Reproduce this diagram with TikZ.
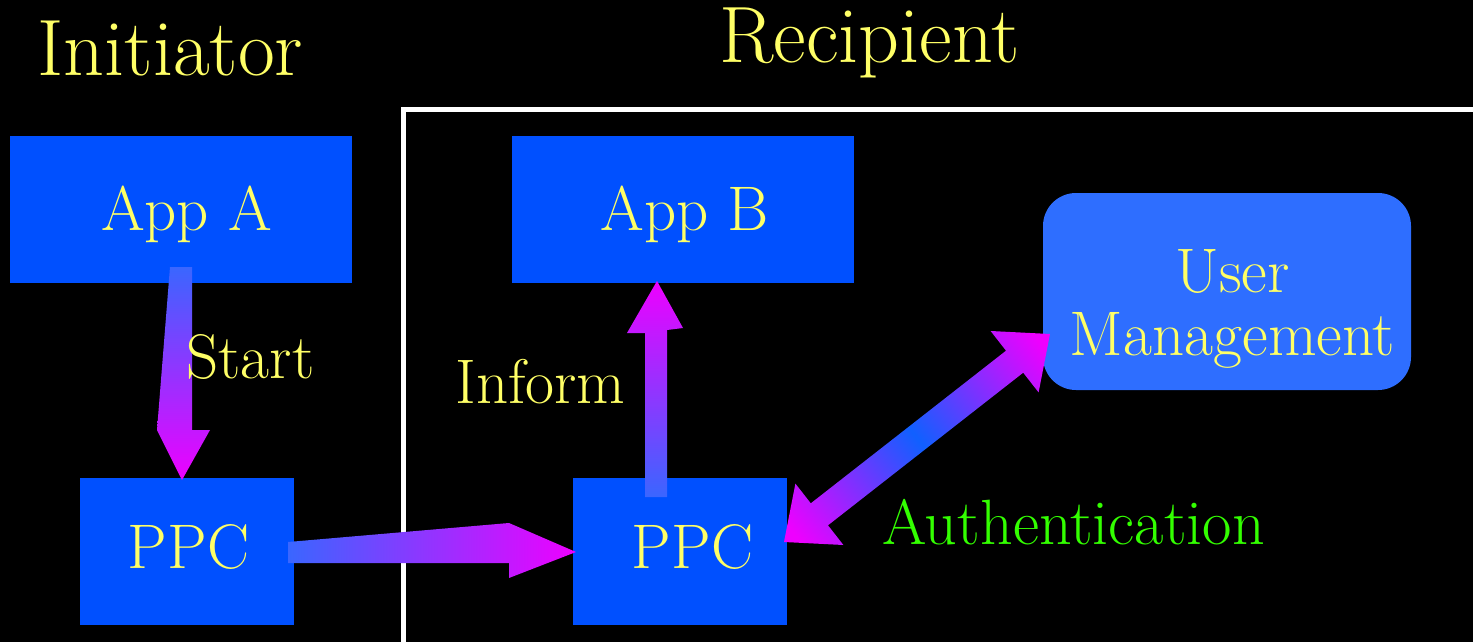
\documentclass[tikz,border=0pt]{standalone}
\definecolor{boxblue}{HTML}{0050FF}
\definecolor{umblue}{HTML}{2E6EFF}
\definecolor{txtyellow}{HTML}{FFFF66}
\definecolor{txtgreen}{HTML}{33FF00}
\definecolor{arrblue}{HTML}{3A66FF}
\definecolor{arrmag}{HTML}{EE00FF}
\definecolor{midblue}{HTML}{1060FF}
\pgfdeclarehorizontalshading{dblsh}{100bp}{color(0bp)=(arrmag); color(18bp)=(arrmag); color(50bp)=(midblue); color(82bp)=(arrmag); color(100bp)=(arrmag)}
\tikzset{
  box/.style={fill=boxblue, draw=none, inner sep=0pt, rectangle},
  umbox/.style={fill=umblue, draw=none, inner sep=0pt, rectangle, rounded corners=33pt},
  lbl/.style={text=txtyellow, font=\rmfamily\fontsize{63}{63}\selectfont, inner sep=0pt, anchor=base},
  title/.style={text=txtyellow, font=\rmfamily\fontsize{80}{80}\selectfont, inner sep=0pt, anchor=base},
  glbl/.style={text=txtgreen, font=\rmfamily\fontsize{64}{64}\selectfont, inner sep=0pt, anchor=base},
  frame/.style={draw=white, line width=5pt}
}
\begin{document}
\begin{tikzpicture}[x=1pt,y=-1pt]
\useasboundingbox (0,0) rectangle (1473,642);
\fill[black] (0,0) rectangle (1473,642);
% recipient frame
\coordinate (fb) at (403,650);
\coordinate (fc) at (403,109);
\coordinate (fr) at (1480,109);
\begin{scope}
\clip (0,0) rectangle (1473,642);
\draw[frame] (fb) -- (fc) -- (fr);
\end{scope}
% titles
\node[title] (tinit) at (170.5,75) {Initiator};
\node[title] (trec) at (869.5,63) {Recipient};
% boxes
\node[box, minimum width=342pt, minimum height=147pt] (appA) at (181,209.5) {};
\node[box, minimum width=342pt, minimum height=147pt] (appB) at (683,209.5) {};
\node[box, minimum width=214pt, minimum height=147pt] (ppcL) at (187,551.5) {};
\node[box, minimum width=214pt, minimum height=147pt] (ppcR) at (680,551.5) {};
\node[umbox, minimum width=368pt, minimum height=197pt] (um) at (1227,291.5) {};
% box labels
\node[lbl] (appAt) at (186.5,230) {App A};
\node[lbl] (appBt) at (684.5,230) {App B};
\node[lbl] (ppcLt) at (188.5,568) {PPC};
\node[lbl] (ppcRt) at (692.5,568) {PPC};
\node[lbl] (umt1) at (1232.5,292) {User};
\node[lbl] (umt2) at (1232.5,355) {Management};
% block arrows
\shade[top color=arrblue, bottom color=arrmag]
  (170,267) -- (192,267) -- (192,430) -- (210,430) -- (182,480) -- (157,430) -- cycle;
\shade[left color=arrblue, right color=arrmag]
  (288,542) -- (509,523) -- (576,552) -- (509,578) -- (509,563) -- (288,563) -- cycle;
\shade[bottom color=arrblue, top color=arrmag]
  (645,497) -- (667,497) -- (667,330) -- (683,328) -- (657,281) -- (627,333) -- (645,333) -- cycle;
\shade[shading=dblsh, shading angle=38]
  (1050,334) -- (1038.6,392.4) -- (1023.2,372.7) -- (828.0,525.3) -- (843.4,545.0) -- (784,542)
  -- (795.4,483.6) -- (810.8,503.3) -- (1006.0,350.7) -- (990.6,331.0) -- cycle;
% arrow labels
\node[lbl] (start) at (250.5,378) {Start};
\node[lbl] (inform) at (540.5,403) {Inform};
\node[glbl] (auth) at (1073.5,544) {Authentication};
\end{tikzpicture}
\end{document}
